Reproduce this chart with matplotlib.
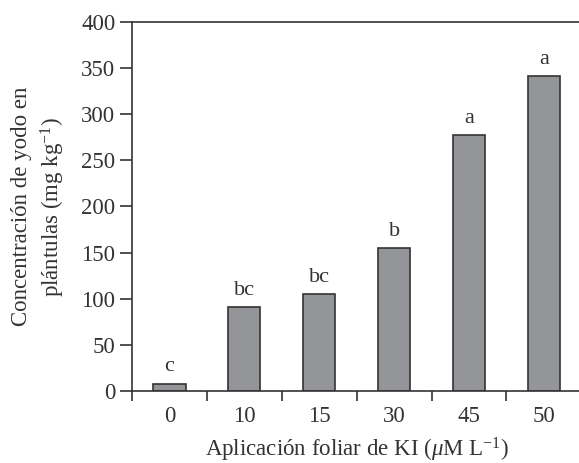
import numpy as np
import matplotlib
matplotlib.use('Agg')
import matplotlib.pyplot as plt

plt.rcParams['font.family'] = ['Liberation Serif', 'DejaVu Serif']
plt.rcParams['mathtext.fontset'] = 'custom'
plt.rcParams['mathtext.rm'] = 'Liberation Serif'
plt.rcParams['mathtext.it'] = 'Liberation Serif:italic'

doses = ['0', '10', '15', '30', '45', '50']
iodine = [8, 91, 105, 155, 277, 341]
letters = ['c', 'bc', 'bc', 'b', 'a', 'a']

ink = '#333333'

fig = plt.figure(figsize=(5.79, 4.63), dpi=100)
ax = fig.add_axes([0.228, 0.1555, 0.776, 0.797])

x = np.arange(len(doses))
ax.bar(x, iodine, width=0.43, color='#939598', edgecolor=ink, linewidth=1.2)

for xi, v, lab in zip(x, iodine, letters):
    ax.text(xi, v + 8, lab, ha='center', va='bottom', fontsize=16, color=ink)

ax.set_xlim(-0.5, 5.5)
ax.set_ylim(0, 400)
ax.set_yticks(np.arange(0, 401, 50))

# ticks at category boundaries, labels at centres
ax.set_xticks(np.arange(-0.5, 5.5, 1.0))
ax.set_xticklabels([])
ax.set_xticks(x, minor=True)
ax.set_xticklabels(doses, minor=True)
ax.tick_params(axis='x', which='major', direction='out', length=7, width=1.2, color=ink)
ax.tick_params(axis='x', which='minor', length=0, pad=11, labelsize=16.5, labelcolor=ink)
ax.tick_params(axis='y', direction='out', length=9, width=1.2, color=ink,
               labelsize=16.5, labelcolor=ink, pad=3)

ax.spines['right'].set_visible(False)
for s in ['left', 'top', 'bottom']:
    ax.spines[s].set_linewidth(1.2)
    ax.spines[s].set_color(ink)

ax.set_xlabel('Aplicación foliar de KI ($\\mathit{\\mu}$M L$^{-1}$)', fontsize=16.5,
              color=ink, labelpad=6)
ax.set_ylabel('Concentración de yodo en\nplántulas (mg kg$^{-1}$)', fontsize=16.5,
              color=ink, labelpad=10, linespacing=1.35)

fig.savefig('out.png', dpi=100)
